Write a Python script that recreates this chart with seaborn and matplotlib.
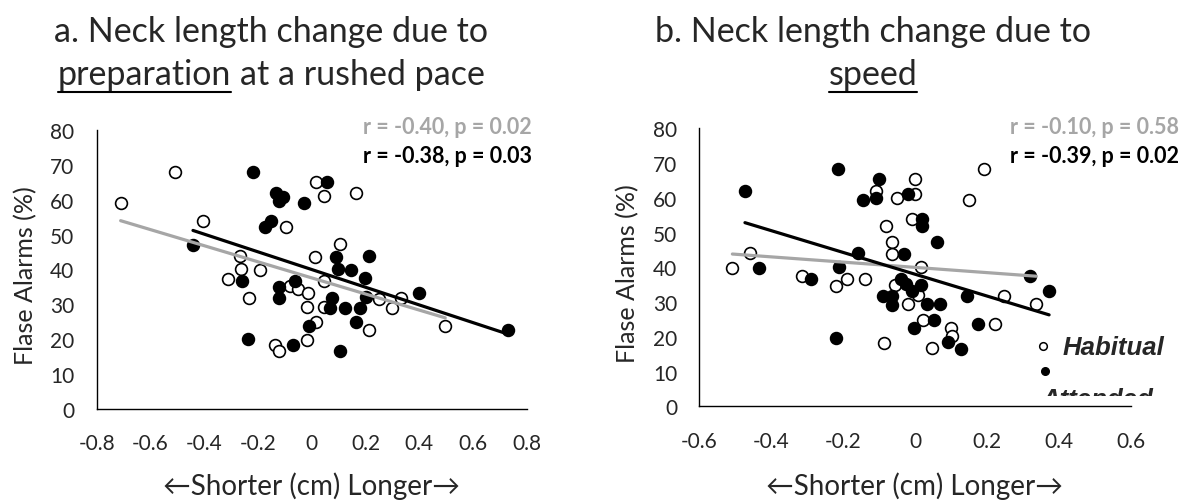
import pandas as pd
import matplotlib
matplotlib.use("Agg")
import matplotlib.pyplot as plt
from matplotlib.lines import Line2D
from matplotlib.patches import Rectangle
import seaborn as sns

# ---- values ----
# a. preparation at a rushed pace
hab_a_x = [-0.711, -0.509, -0.405, -0.269, -0.265, -0.312, -0.191, -0.235, -0.096, 0.017,
           0.047, 0.163, 0.103, 0.011, 0.047, -0.080, -0.051, -0.015, -0.018, 0.044,
           0.016, -0.018, -0.138, -0.121, 0.211, 0.248, 0.298, 0.331, 0.496]
hab_a_y = [59.2, 68.1, 53.8, 43.9, 40.1, 37.4, 39.9, 31.7, 52.1, 65.2,
           61.1, 61.9, 47.3, 43.7, 36.6, 35.3, 34.4, 33.2, 29.3, 29.3,
           25.0, 19.9, 18.4, 16.5, 22.7, 31.5, 29.1, 31.8, 23.9]
att_a_x = [-0.442, -0.220, -0.132, -0.107, -0.123, -0.030, 0.056, -0.152, -0.176, -0.259,
           -0.123, -0.123, -0.061, 0.091, 0.097, 0.147, 0.211, 0.199, 0.075, 0.069,
           0.124, 0.180, 0.202, 0.164, -0.012, -0.071, -0.237, 0.106, 0.399, 0.728]
att_a_y = [47.1, 68.1, 61.9, 60.9, 59.7, 59.2, 65.2, 54.0, 52.1, 36.6,
           35.1, 31.7, 36.8, 43.7, 40.1, 39.9, 43.9, 37.5, 31.8, 29.1,
           29.1, 29.1, 32.0, 25.0, 23.9, 18.4, 20.1, 16.7, 33.4, 22.6]

# b. speed
hab_b_x = [-0.508, -0.459, -0.313, -0.221, -0.188, -0.139, -0.109, -0.049, 0.000, 0.000,
           -0.007, -0.081, -0.065, -0.065, 0.016, -0.056, -0.020, 0.007, 0.023, -0.085,
           0.046, 0.099, 0.104, 0.151, 0.193, 0.223, 0.248, 0.337]
hab_b_y = [39.8, 44.1, 37.4, 34.7, 36.6, 36.6, 62.1, 60.0, 65.4, 61.1,
           53.9, 52.0, 47.4, 43.8, 40.2, 35.0, 29.3, 32.1, 24.9, 18.2,
           16.7, 22.5, 20.1, 59.4, 68.3, 23.7, 31.8, 29.3]
att_b_x = [-0.473, -0.434, -0.290, -0.215, -0.220, -0.211, -0.159, -0.144, -0.108, -0.100,
           -0.019, 0.019, 0.020, 0.062, -0.031, -0.088, -0.065, -0.065, -0.040, -0.025,
           -0.009, 0.017, 0.032, 0.070, -0.003, 0.053, 0.093, 0.127, 0.146, 0.176,
           0.320, 0.373]
att_b_y = [62.1, 39.8, 36.6, 68.3, 19.7, 40.0, 44.0, 59.4, 60.0, 65.4,
           61.1, 53.9, 52.0, 47.4, 43.8, 31.8, 31.8, 29.2, 36.6, 35.2,
           33.3, 35.0, 29.3, 29.3, 22.5, 24.9, 18.6, 16.5, 31.8, 23.7,
           37.6, 33.1]

xticks_a = [-0.8, -0.6, -0.4, -0.2, 0, 0.2, 0.4, 0.6, 0.8]
xticklabels_a = ["-0.8", "-0.6", "-0.4", "-0.2", "0", "0.2", "0.4", "0.6", "0.8"]
xticks_b = [-0.6, -0.4, -0.2, 0, 0.2, 0.4, 0.6]
xticklabels_b = ["-0.6", "-0.4", "-0.2", "0", "0.2", "0.4", "0.6"]
yticks = [0, 10, 20, 30, 40, 50, 60, 70, 80]

stats_a = ["r = -0.40, p = 0.02", "r = -0.38, p = 0.03"]
stats_b = ["r = -0.10, p = 0.58", "r = -0.39, p = 0.02"]
groups = ["Habitual", "Attended"]

W, H = 1183, 502
GRAY = "#A6A6A6"
TITLE_FS = 24.5
XLABEL_FS = 20
YLABEL_FS = 18
TICK_FS = 15

sns.set_style("white")
plt.rcParams["font.family"] = ["Lato", "DejaVu Sans"]

fig = plt.figure(figsize=(W / 100, H / 100), dpi=100)


def box(left, top, right, bottom):
    return [left / W, 1 - bottom / H, (right - left) / W, (bottom - top) / H]


def make_df(hx, hy, ax_, ay):
    return pd.concat([
        pd.DataFrame({"change": hx, "false_alarms": hy, "group": "Habitual"}),
        pd.DataFrame({"change": ax_, "false_alarms": ay, "group": "Attended"}),
    ], ignore_index=True)


def draw_panel(ax, df, xlim, xticks, xticklabels, xlab_y):
    styles = {"Habitual": ("white", GRAY, 3), "Attended": ("black", "black", 4)}
    for grp in groups:
        face, line_col, z = styles[grp]
        sub = df[df["group"] == grp]
        sns.regplot(data=sub, x="change", y="false_alarms", ax=ax, ci=None,
                    truncate=True, color="black",
                    scatter_kws=dict(s=72, facecolor=face, edgecolor="black",
                                     linewidths=1.2, alpha=1, zorder=2),
                    line_kws=dict(color=line_col, lw=2.3, zorder=z))
    ax.set_xlim(*xlim)
    ax.set_ylim(0, 80)
    ax.set_xticks(xticks)
    ax.set_xticklabels(xticklabels)
    ax.set_yticks(yticks)
    ax.set_yticklabels([str(v) for v in yticks])
    ax.tick_params(axis="both", length=0, labelsize=TICK_FS)
    ax.tick_params(axis="x", pad=17.5)
    ax.tick_params(axis="y", pad=16)
    for s in ["top", "right"]:
        ax.spines[s].set_visible(False)
    for s in ["left", "bottom"]:
        ax.spines[s].set_color("black")
        ax.spines[s].set_linewidth(1.0)
    ax.set_xlabel("\u2190Shorter (cm) Longer\u2192", fontsize=XLABEL_FS)
    ax.set_ylabel("Flase Alarms (%)", fontsize=YLABEL_FS)
    ax.xaxis.set_label_coords(0.5, xlab_y)
    ax.yaxis.set_label_coords(-0.138, 0.48)


def title_block(cx, line1, under, rest):
    r = fig.canvas.get_renderer()
    fig.text(cx / W, 1 - 42 / H, line1, ha="center", va="baseline", fontsize=TITLE_FS)
    t_u = fig.text(0, 1 - 85 / H, under, ha="left", va="baseline", fontsize=TITLE_FS)
    w_u = t_u.get_window_extent(r).width
    w_r, gap = 0, 0
    if rest:
        t_r = fig.text(0, 1 - 85 / H, rest, ha="left", va="baseline", fontsize=TITLE_FS)
        w_r = t_r.get_window_extent(r).width
        probe1 = fig.text(0, 0, "x x", fontsize=TITLE_FS)
        probe2 = fig.text(0, 0, "xx", fontsize=TITLE_FS)
        gap = probe1.get_window_extent(r).width - probe2.get_window_extent(r).width
        probe1.remove()
        probe2.remove()
    x0 = cx - (w_u + gap + w_r) / 2
    t_u.set_x(x0 / W)
    if rest:
        t_r.set_x((x0 + w_u + gap) / W)
    fig.add_artist(Line2D([x0 / W, (x0 + w_u) / W], [1 - 93 / H] * 2,
                          transform=fig.transFigure, color="black", lw=1.5))


def stats_text(right, lines):
    fig.text(right / W, 1 - 128 / H, lines[0], ha="right", va="center",
             fontsize=15.5, fontweight="bold", color=GRAY)
    fig.text(right / W, 1 - 157 / H, lines[1], ha="right", va="center",
             fontsize=15.5, fontweight="bold", color="black")


ax_a = fig.add_axes(box(96.7, 131, 527, 410))
ax_b = fig.add_axes(box(699.3, 129.3, 1130.7, 407.3))

draw_panel(ax_a, make_df(hab_a_x, hab_a_y, att_a_x, att_a_y),
           (-0.8, 0.8), xticks_a, xticklabels_a, -0.225)
draw_panel(ax_b, make_df(hab_b_x, hab_b_y, att_b_x, att_b_y),
           (-0.6, 0.6), xticks_b, xticklabels_b, -0.235)

title_block(271, "a. Neck length change due to", "preparation", "at a rushed pace")
title_block(873, "b. Neck length change due to", "speed", "")

stats_text(532, stats_a)
stats_text(1179, stats_b)

# legend (panel b), second label is clipped by the plot area as in the original
leg_font = dict(family=["Liberation Sans", "DejaVu Sans"], fontsize=18.5,
                fontweight="bold", fontstyle="italic")
fig.add_artist(Line2D([1043 / W], [1 - 347 / H], marker="o", markersize=5.5,
                      markerfacecolor="white", markeredgecolor="black",
                      markeredgewidth=1.1, transform=fig.transFigure))
fig.add_artist(Line2D([1045 / W], [1 - 372 / H], marker="o", markersize=5.5,
                      markerfacecolor="black", markeredgecolor="black",
                      transform=fig.transFigure))
fig.text(1063 / W, 1 - 355 / H, groups[0], ha="left", va="baseline", **leg_font)
t_att = fig.text(1042 / W, 1 - 407 / H, groups[1], ha="left", va="baseline", **leg_font)
clip = Rectangle((0, 1 - 397 / H), 1, 397 / H, transform=fig.transFigure)
t_att.set_clip_path(clip)

fig.savefig("out.png", dpi=100)
